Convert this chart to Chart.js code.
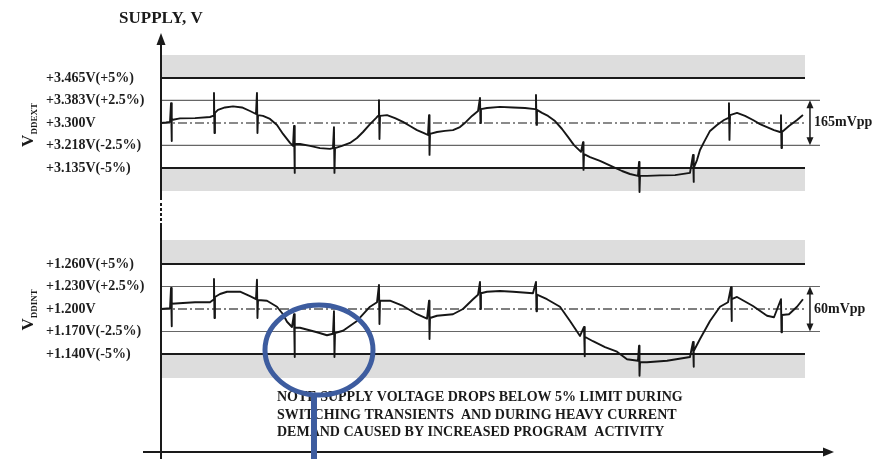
<!DOCTYPE html>
<html><head><meta charset="utf-8">
<script src="https://cdn.jsdelivr.net/npm/chart.js@4.4.1/dist/chart.umd.min.js"></script>
<style>html,body{margin:0;padding:0;background:#fff;overflow:hidden}#wrap{width:879px;height:459px;position:relative}</style>
</head><body><div id="wrap"><canvas id="c" width="879" height="459"></canvas></div>
<script>
// ---------------- DATA ----------------
const titleText = 'SUPPLY, V';
const noteLines = ['NOTE SUPPLY VOLTAGE DROPS BELOW 5% LIMIT DURING',
                   'SWITCHING TRANSIENTS  AND DURING HEAVY CURRENT',
                   'DEMAND CAUSED BY INCREASED PROGRAM  ACTIVITY'];

// V_DDEXT panel
const extTickValues = [3.465, 3.383, 3.300, 3.218, 3.135];
const extTickLabels = ['+3.465V(+5%)', '+3.383V(+2.5%)', '+3.300V', '+3.218V(-2.5%)', '+3.135V(-5%)'];
const extBandOuter = [3.549, 3.051];
const extCurveT = [0, 0.71, 1.29,
  1.57, 2.71, 4.86, 7.0, 7.43,
  7.71, 8.14, 9.14, 10.29, 11.57, 12.71, 13.57,
  13.86, 14.57, 15.57, 16.57, 17.43, 18.43, 18.86,
  19.14, 19.86, 21.29, 22.71, 24.14, 24.57,
  24.86, 25.86, 27.0, 28.0, 28.86, 29.86, 30.71, 31.0,
  31.29, 32.29, 33.43, 34.57, 35.57, 36.57, 37.57, 38.14,
  38.43, 39.43, 40.57, 41.71, 42.71, 43.57, 44.43, 45.29,
  45.71, 46.57, 48.43, 50.29, 52.0, 53.43,
  53.71, 54.43, 55.29, 56.29, 57.29, 58.14, 59.0, 60.0,
  60.43, 61.29, 62.71, 64.57, 65.86, 67.0, 68.14,
  68.43, 69.43, 71.29, 73.43, 75.57,
  76.14, 76.57, 77.0, 77.57, 78.43, 79.43, 80.43, 81.0,
  81.29, 82.29, 83.43, 84.57, 85.57, 86.57, 87.57, 88.43,
  88.71, 89.71, 90.86, 91.71];
const extCurveV = [3.300, 3.302, 3.304,
  3.311, 3.317, 3.318, 3.322, 3.326,
  3.337, 3.348, 3.357, 3.361, 3.357, 3.344, 3.333,
  3.329, 3.326, 3.315, 3.293, 3.260, 3.227, 3.216,
  3.223, 3.223, 3.216, 3.208, 3.205, 3.208,
  3.208, 3.216, 3.227, 3.245, 3.267, 3.296, 3.318, 3.326,
  3.326, 3.329, 3.318, 3.304, 3.289, 3.274, 3.263, 3.256,
  3.260, 3.267, 3.271, 3.274, 3.285, 3.304, 3.326, 3.344,
  3.351, 3.355, 3.359, 3.357, 3.355, 3.351,
  3.348, 3.337, 3.326, 3.307, 3.278, 3.249, 3.219, 3.194,
  3.186, 3.175, 3.161, 3.139, 3.124, 3.113, 3.106,
  3.106, 3.106, 3.108, 3.109, 3.117,
  3.135, 3.164, 3.201, 3.230, 3.271, 3.293, 3.311, 3.318,
  3.329, 3.337, 3.326, 3.311, 3.296, 3.285, 3.274, 3.267,
  3.267, 3.289, 3.311, 3.329];
const extSpikeT  = [1.43, 7.57, 13.71, 19.0, 24.71, 31.14, 38.29, 45.57, 53.57, 60.29, 68.29, 76.0, 81.14, 88.57];
const extSpikeHi = [3.373, 3.410, 3.410, 3.289, 3.285, 3.384, 3.329, 3.392, 3.403, 3.230, 3.157, 3.183, 3.373, 3.329];
const extSpikeLo = [3.234, 3.263, 3.263, 3.117, 3.117, 3.241, 3.183, 3.300, 3.293, 3.128, 3.047, 3.084, 3.238, 3.208];

// V_DDINT panel
const intTickValues = [1.260, 1.230, 1.200, 1.170, 1.140];
const intTickLabels = ['+1.260V(+5%)', '+1.230V(+2.5%)', '+1.200V', '+1.170V(-2.5%)', '+1.140V(-5%)'];
const intBandOuter = [1.292, 1.108];
const intCurveT = [0, 1.29, 1.57, 3.14, 4.86, 7.0, 7.43,
  7.71, 8.43, 9.43, 11.29, 12.71, 13.57,
  13.86, 15.14, 16.57, 17.43, 18.0, 18.71,
  19.14, 19.86, 22.29, 23.71, 24.57,
  24.86, 26.0, 28.0, 29.86, 30.86,
  31.29, 32.71, 34.57, 36.57, 38.0,
  38.43, 39.43, 41.71, 43.14, 44.57, 45.29,
  45.71, 46.57, 48.43, 50.29, 53.14,
  53.71, 55.14, 57.0, 58.43, 59.86,
  60.57, 61.71, 63.43, 65.14, 66.57, 68.14,
  68.43, 69.43, 72.29, 75.57,
  76.14, 77.0, 78.43, 79.86, 81.0,
  81.57, 82.29, 84.57, 86.57, 87.57,
  88.71, 89.71, 90.86, 91.71];
const intCurveV = [1.200, 1.201, 1.207, 1.208, 1.209, 1.209, 1.212,
  1.216, 1.220, 1.223, 1.223, 1.217, 1.213,
  1.212, 1.211, 1.203, 1.193, 1.183, 1.176,
  1.175, 1.175, 1.169, 1.165, 1.167,
  1.168, 1.171, 1.184, 1.203, 1.209,
  1.211, 1.211, 1.204, 1.193, 1.187,
  1.188, 1.191, 1.193, 1.200, 1.213, 1.219,
  1.221, 1.223, 1.224, 1.223, 1.221,
  1.219, 1.213, 1.203, 1.184, 1.164,
  1.163, 1.157, 1.149, 1.143, 1.133, 1.131,
  1.129, 1.129, 1.131, 1.136,
  1.144, 1.160, 1.184, 1.203, 1.209,
  1.213, 1.216, 1.204, 1.191, 1.189,
  1.192, 1.193, 1.203, 1.213];
const intSpikeT  = [1.43, 7.57, 13.71, 19.0, 24.71, 31.14, 38.29, 45.57, 53.57, 60.43, 68.29, 76.0, 81.43, 88.57];
const intSpikeHi = [1.228, 1.240, 1.239, 1.193, 1.197, 1.232, 1.211, 1.236, 1.236, 1.176, 1.151, 1.156, 1.229, 1.213];
const intSpikeLo = [1.177, 1.188, 1.188, 1.136, 1.136, 1.180, 1.160, 1.200, 1.197, 1.137, 1.111, 1.123, 1.184, 1.169];

// extents along time axis
const timeMax = 96;
const limitEndT = 92;
const guideEndT = 94.14;
const ppArrowT = 92.71;
const circleT = 22.57, circleV = 1.1453; // highlighted region (V_DDINT)

// ---------------- BUILD ----------------
function buildWave(ct, cv, st, sh, sl) {
  const pts = ct.map((t, i) => ({x: t, y: cv[i]}));
  st.forEach((t, i) => { pts.push({x: t, y: sh[i]}); pts.push({x: t + 0.07, y: sl[i]}); });
  pts.sort((a, b) => a.x - b.x);
  return pts;
}
function hLine(axis, v, xEnd, color, width, dash) {
  return {yAxisID: axis, data: [{x: 0, y: v}, {x: xEnd, y: v}], borderColor: color, borderWidth: width,
          borderDash: dash || [], pointRadius: 0, fill: false, tension: 0};
}
function band(axis, inner, outer, xEnd) {
  return {yAxisID: axis, data: [{x: 0, y: outer}, {x: xEnd, y: outer}], borderWidth: 0,
          borderColor: 'rgba(0,0,0,0)', backgroundColor: '#dddddd', fill: {value: inner}, pointRadius: 0};
}
function waveDs(axis, pts) {
  return {yAxisID: axis, data: pts, borderColor: '#161616', borderWidth: 1.9, pointRadius: 0,
          tension: 0, fill: false, borderJoinStyle: 'round'};
}
const dashDot = [9, 3, 2, 3];
const datasets = [
  waveDs('yExt', buildWave(extCurveT, extCurveV, extSpikeT, extSpikeHi, extSpikeLo)),
  waveDs('yInt', buildWave(intCurveT, intCurveV, intSpikeT, intSpikeHi, intSpikeLo)),
  hLine('yExt', extTickValues[0], limitEndT, '#1a1a1a', 2),
  hLine('yExt', extTickValues[4], limitEndT, '#1a1a1a', 2),
  hLine('yExt', extTickValues[1], guideEndT, '#666', 1.2),
  hLine('yExt', extTickValues[3], guideEndT, '#666', 1.2),
  hLine('yExt', extTickValues[2], limitEndT, '#8a8a8a', 1.8, dashDot),
  hLine('yInt', intTickValues[0], limitEndT, '#1a1a1a', 2),
  hLine('yInt', intTickValues[4], limitEndT, '#1a1a1a', 2),
  hLine('yInt', intTickValues[1], guideEndT, '#666', 1.2),
  hLine('yInt', intTickValues[3], guideEndT, '#666', 1.2),
  hLine('yInt', intTickValues[2], limitEndT, '#555', 1.4, dashDot),
  band('yExt', extTickValues[0], extBandOuter[0], limitEndT),
  band('yExt', extTickValues[4], extBandOuter[1], limitEndT),
  band('yInt', intTickValues[0], intBandOuter[0], limitEndT),
  band('yInt', intTickValues[4], intBandOuter[1], limitEndT)
];

const SERIF = "'Liberation Serif', 'DejaVu Serif', serif";
const tickFont = {family: SERIF, size: 14, weight: 'bold'};
function yScale(values, labels, min, max, stackW, w) {
  return {
    type: 'linear', position: 'left', stack: 'v', stackWeight: stackW, weight: w,
    min: min, max: max, grid: {display: false}, border: {display: false},
    afterBuildTicks: s => { s.ticks = values.map(v => ({value: v})); },
    afterFit: s => { s.width = 115; s.paddingTop = 0; s.paddingBottom = 0; },
    ticks: {autoSkip: false, crossAlign: 'far', color: '#1e1e1e', font: tickFont,
            callback: (v, i) => labels[i]}
  };
}

function arrowHead(ctx, x, y, dir, len, half) {
  ctx.beginPath();
  if (dir === 'up') { ctx.moveTo(x, y); ctx.lineTo(x - half, y + len); ctx.lineTo(x + half, y + len); }
  else if (dir === 'down') { ctx.moveTo(x, y); ctx.lineTo(x - half, y - len); ctx.lineTo(x + half, y - len); }
  else { ctx.moveTo(x, y); ctx.lineTo(x - len, y - half); ctx.lineTo(x - len, y + half); }
  ctx.closePath(); ctx.fill();
}

const decor = {
  id: 'decor',
  afterDraw(chart) {
    const ctx = chart.ctx, a = chart.chartArea;
    const xs = chart.scales.x, ye = chart.scales.yExt, yi = chart.scales.yInt;
    ctx.save();
    ctx.fillStyle = '#1a1a1a'; ctx.strokeStyle = '#1a1a1a';
    // vertical axis with break
    const ax = a.left;
    ctx.lineWidth = 2;
    const brk0 = ye.getPixelForValue(extBandOuter[1]) + 9, brk1 = yi.getPixelForValue(intBandOuter[0]) - 15;
    ctx.beginPath(); ctx.moveTo(ax, a.top + 4); ctx.lineTo(ax, brk0); ctx.stroke();
    for (let y = brk0 + 3; y < brk1 - 2; y += 5) { ctx.beginPath(); ctx.moveTo(ax, y); ctx.lineTo(ax, y + 3); ctx.stroke(); }
    ctx.beginPath(); ctx.moveTo(ax, brk1); ctx.lineTo(ax, chart.height); ctx.stroke();
    arrowHead(ctx, ax, a.top - 7, 'up', 12, 4.5);
    // horizontal axis
    ctx.beginPath(); ctx.moveTo(ax - 18, a.bottom); ctx.lineTo(a.right - 8, a.bottom); ctx.stroke();
    arrowHead(ctx, a.right + 1, a.bottom, 'right', 11, 4.5);

    // title
    ctx.font = 'bold 17px ' + SERIF; ctx.textAlign = 'center'; ctx.textBaseline = 'middle';
    ctx.fillText(titleText, ax, 19);

    // rotated panel labels
    function vLabel(sub, cy) {
      ctx.save(); ctx.translate(33, cy); ctx.rotate(-Math.PI / 2);
      ctx.textAlign = 'left'; ctx.textBaseline = 'alphabetic';
      ctx.font = 'bold 17px ' + SERIF; const wV = ctx.measureText('V').width;
      ctx.font = 'bold 9px ' + SERIF; const wS = ctx.measureText(sub).width;
      const x0 = -(wV + wS) / 2;
      ctx.font = 'bold 17px ' + SERIF; ctx.fillText('V', x0, 0);
      ctx.font = 'bold 9px ' + SERIF; ctx.fillText(sub, x0 + wV, 4);
      ctx.restore();
    }
    vLabel('DDEXT', ye.getPixelForValue(extTickValues[2]) + 2);
    vLabel('DDINT', yi.getPixelForValue(intTickValues[2]) + 1);

    // peak-to-peak annotations
    function pp(scale, hi, lo) {
      const x = xs.getPixelForValue(ppArrowT);
      const y0 = scale.getPixelForValue(hi), y1 = scale.getPixelForValue(lo);
      ctx.lineWidth = 1.5;
      ctx.beginPath(); ctx.moveTo(x, y0 + 4); ctx.lineTo(x, y1 - 4); ctx.stroke();
      arrowHead(ctx, x, y0, 'up', 8, 3.5); arrowHead(ctx, x, y1, 'down', 8, 3.5);
      ctx.font = 'bold 14px ' + SERIF; ctx.textAlign = 'left'; ctx.textBaseline = 'middle';
      ctx.fillText(Math.round((hi - lo) * 1000) + 'mVpp', x + 4, (y0 + y1) / 2);
    }
    pp(ye, extTickValues[1], extTickValues[3]);
    pp(yi, intTickValues[1], intTickValues[3]);

    // note text
    ctx.font = 'bold 14px ' + SERIF; ctx.textAlign = 'left'; ctx.textBaseline = 'middle';
    const nx = xs.getPixelForValue(16.57);
    const nys = [397, 415, 432];
    noteLines.forEach((t, i) => ctx.fillText(t, nx, nys[i]));

    // magnifier circle
    const cx = xs.getPixelForValue(circleT), cy = yi.getPixelForValue(circleV);
    ctx.strokeStyle = '#3d5c9f'; ctx.fillStyle = '#3d5c9f'; ctx.lineWidth = 5;
    ctx.beginPath(); ctx.ellipse(cx, cy, 54, 45, 0, 0, Math.PI * 2); ctx.stroke();
    ctx.fillRect(cx - 8, cy + 46, 6, chart.height - (cy + 46));
    ctx.restore();
  }
};

new Chart(document.getElementById('c'), {
  type: 'line',
  data: {datasets: datasets},
  options: {
    responsive: false, animation: false, events: [],
    layout: {autoPadding: false, padding: {left: 46, right: 46, top: 40, bottom: 7}},
    plugins: {legend: {display: false}, tooltip: {enabled: false}},
    scales: {
      x: {type: 'linear', min: 0, max: timeMax, display: false},
      yExt: yScale(extTickValues, extTickLabels, 2.9627, 3.6043, 175, 2),
      yInt: yScale(intTickValues, intTickLabels, 1.0093, 1.3253, 237, 1)
    }
  },
  plugins: [decor]
});
</script>
</body></html>
